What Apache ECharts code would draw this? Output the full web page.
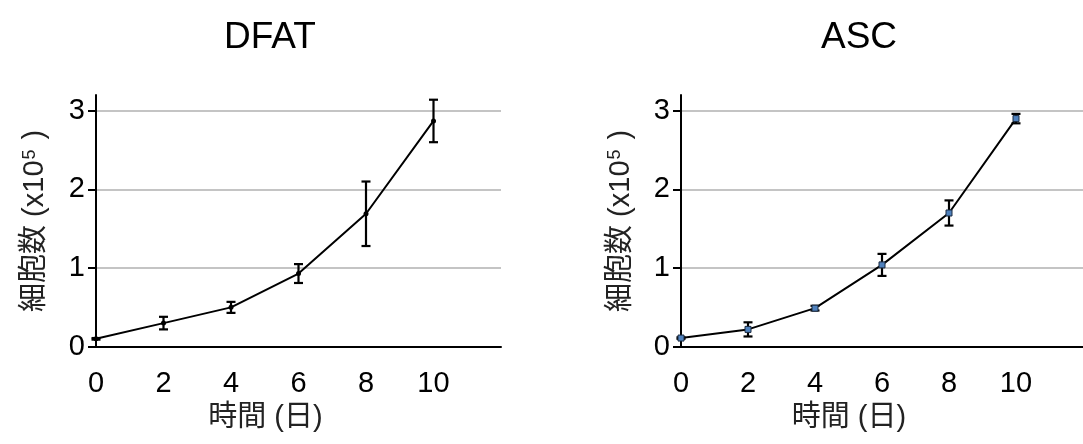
<!DOCTYPE html>
<html>
<head>
<meta charset="utf-8">
<script src="https://cdn.jsdelivr.net/npm/echarts@6/dist/echarts.min.js"></script>
<style>
  html, body { margin: 0; padding: 0; background: #fff; }
  #chart { width: 1083px; height: 444px; }
</style>
</head>
<body>
<div id="chart"></div>
<script>
// Cell counts (x10^5) over culture days, mean and error per time point
const days = [0, 2, 4, 6, 8, 10];
const dfatMean = [0.10, 0.30, 0.50, 0.93, 1.69, 2.87];
const dfatErr  = [0.01, 0.08, 0.07, 0.12, 0.41, 0.27];
const ascMean  = [0.11, 0.22, 0.49, 1.04, 1.70, 2.90];
const ascErr   = [0.01, 0.09, 0.03, 0.14, 0.16, 0.06];
const panelTitles = ['DFAT', 'ASC'];
const xTicks = [0, 2, 4, 6, 8, 10];
const yTicks = [0, 1, 2, 3];

const FONT = "'Liberation Sans', 'Noto Sans CJK JP', sans-serif";

const grids = [
  { left: 96, top: 95, width: 405, height: 251.7 },
  { left: 681, top: 95, width: 408, height: 251.7 }
];

function xAxisFor(i) {
  return {
    type: 'value', gridIndex: i, min: 0, max: 12, interval: 2,
    name: '時間 (日)', nameLocation: 'middle', nameGap: 57,
    nameTextStyle: { fontFamily: FONT, fontSize: 29, color: '#222', padding: [0, 66, 0, 0] },
    axisLine: { show: true, onZero: false, lineStyle: { color: '#000', width: 2 } },
    axisTick: { show: false },
    splitLine: { show: false },
    axisLabel: { customValues: xTicks, margin: 23, fontFamily: FONT, fontSize: 29, color: '#000' }
  };
}

function yAxisFor(i) {
  return {
    type: 'value', gridIndex: i, min: 0, max: 3.2, interval: 1,
    name: '細胞数 (x10{sup|5} )', nameLocation: 'middle', nameGap: 46,
    nameTextStyle: {
      fontFamily: FONT, fontSize: 29, color: '#222',
      rich: { sup: { fontFamily: FONT, fontSize: 18, color: '#222', verticalAlign: 'top', padding: [0, 2, 10, 1] } }
    },
    axisLine: { show: true, lineStyle: { color: '#000', width: 2 } },
    axisTick: { show: true, customValues: yTicks, length: 8, lineStyle: { color: '#000', width: 2 } },
    axisLabel: { customValues: yTicks, margin: 11, fontFamily: FONT, fontSize: 29, color: '#000' },
    splitLine: { show: true, showMinLine: false, showMaxLine: true, lineStyle: { color: '#b0b0b0', width: 1.5 } }
  };
}

function pairs(mean) { return days.map((d, i) => [d, mean[i]]); }
function errRows(mean, err) { return days.map((d, i) => [d, mean[i] - err[i], mean[i] + err[i]]); }

function errorSeries(i, mean, err) {
  return {
    type: 'custom', xAxisIndex: i, yAxisIndex: i, z: 3,
    data: errRows(mean, err),
    encode: { x: 0, y: [1, 2] },
    renderItem: function (params, api) {
      const lo = api.coord([api.value(0), api.value(1)]);
      const hi = api.coord([api.value(0), api.value(2)]);
      const hw = 4.5;
      const style = { stroke: '#000', lineWidth: 2.2 };
      return {
        type: 'group',
        children: [
          { type: 'line', shape: { x1: lo[0], y1: lo[1], x2: hi[0], y2: hi[1] }, style: style },
          { type: 'line', shape: { x1: lo[0] - hw, y1: lo[1], x2: lo[0] + hw, y2: lo[1] }, style: style },
          { type: 'line', shape: { x1: hi[0] - hw, y1: hi[1], x2: hi[0] + hw, y2: hi[1] }, style: style }
        ]
      };
    }
  };
}

const option = {
  animation: false,
  backgroundColor: '#fff',
  title: [
    { text: panelTitles[0], left: 265, top: 14, textAlign: 'center',
      textStyle: { fontFamily: FONT, fontSize: 37, fontWeight: 'normal', color: '#000' } },
    { text: panelTitles[1], left: 854, top: 14, textAlign: 'center',
      textStyle: { fontFamily: FONT, fontSize: 37, fontWeight: 'normal', color: '#000' } }
  ],
  grid: grids,
  xAxis: [xAxisFor(0), xAxisFor(1)],
  yAxis: [yAxisFor(0), yAxisFor(1)],
  series: [
    {
      type: 'line', xAxisIndex: 0, yAxisIndex: 0, z: 4,
      data: pairs(dfatMean),
      symbol: 'circle', symbolSize: 5,
      lineStyle: { color: '#000', width: 2 },
      itemStyle: { color: '#000' }
    },
    errorSeries(0, dfatMean, dfatErr),
    {
      type: 'line', xAxisIndex: 1, yAxisIndex: 1, z: 4,
      data: pairs(ascMean),
      symbol: 'rect', symbolSize: 6,
      lineStyle: { color: '#000', width: 2 },
      itemStyle: { color: '#4f81bd', borderColor: '#1a2a40', borderWidth: 1 }
    },
    errorSeries(1, ascMean, ascErr)
  ]
};

const chart = echarts.init(document.getElementById('chart'), null, { renderer: 'canvas' });
chart.setOption(option);
</script>
</body>
</html>
